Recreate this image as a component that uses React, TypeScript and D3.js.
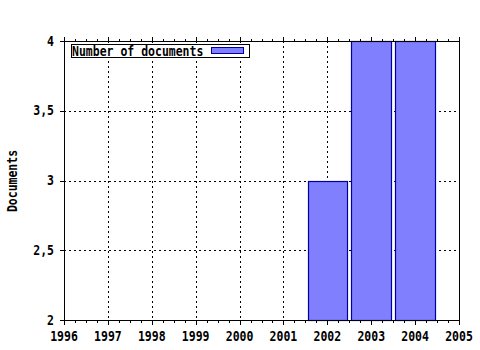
import React from "react";
import * as d3 from "d3";

const years = [2002, 2003, 2004];
const documents = [3, 4, 4];
const xTicks = [1996, 1997, 1998, 1999, 2000, 2001, 2002, 2003, 2004, 2005];
const yTicks = [2, 2.5, 3, 3.5, 4];
const legendLabel = "Number of documents";
const yLabel = "Documents";

const W = 480, H = 350;
const L = 64, R = 459, T = 41, B = 320;
const FONT = "'DejaVu Sans Mono', monospace";

function Txt({ x, y, anchor, rotate, children }: { x: number; y: number; anchor?: string; rotate?: number; children: React.ReactNode }) {
  return (
    <text transform={`translate(${x},${y})${rotate ? ` rotate(${rotate})` : ""} scale(1,1.15)`}
      textAnchor={anchor || "start"} fontFamily={FONT} fontWeight="bold" fontSize={11.5} fill="#000">
      {children}
    </text>
  );
}

export default function App() {
  const x = d3.scaleLinear().domain([1996, 2005]).range([L, R]);
  const y = d3.scaleLinear().domain([2, 4]).range([B, T]);
  const minor: number[] = [];
  for (let v = 1996; v < 2005; v++) for (let k = 1; k < 4; k++) minor.push(v + k / 4);
  const fmt = (v: number) => String(v).replace(".", ",");
  const barW = 0.9;
  const px = (v: number) => Math.round(x(v)) + 0.5;
  const py = (v: number) => Math.round(y(v)) + 0.5;
  return (
    <svg width={W} height={H} style={{ position: "absolute", left: 0, top: 0, background: "#fff" }}>
      <rect x={0} y={0} width={W} height={H} fill="#fff" />
      {/* grid */}
      {xTicks.slice(1, -1).map((v) => (
        <line key={"gx" + v} x1={px(v)} x2={px(v)} y1={T} y2={B}
          stroke="#000" strokeDasharray="2,3" strokeWidth={1} />
      ))}
      {yTicks.slice(1, -1).map((v) => (
        <line key={"gy" + v} x1={L} x2={R} y1={py(v)} y2={py(v)}
          stroke="#000" strokeDasharray="2,3" strokeWidth={1} />
      ))}
      {/* bars */}
      {years.map((yr, i) => (
        <rect key={yr} x={px(yr - barW / 2)} y={py(documents[i])}
          width={Math.round(x(yr + barW / 2)) - Math.round(x(yr - barW / 2))}
          height={Math.round(y(2)) - Math.round(y(documents[i]))}
          fill="#8080ff" stroke="#0000a0" strokeWidth={1.2} />
      ))}
      {/* border */}
      <rect x={L + 0.5} y={T + 0.5} width={R - L} height={B - T} fill="none" stroke="#000" strokeWidth={1} />
      {/* x ticks */}
      {xTicks.map((v) => (
        <g key={"xt" + v}>
          <line x1={px(v)} x2={px(v)} y1={B} y2={B + 5} stroke="#000" />
          <line x1={px(v)} x2={px(v)} y1={T + 1} y2={T - 4} stroke="#000" />
          <Txt x={x(v)} y={341} anchor="middle">{v}</Txt>
        </g>
      ))}
      {minor.map((v) => (
        <g key={"mt" + v}>
          <line x1={px(v)} x2={px(v)} y1={B} y2={B + 3} stroke="#000" />
          <line x1={px(v)} x2={px(v)} y1={T + 1} y2={T - 2} stroke="#000" />
        </g>
      ))}
      {/* y ticks */}
      {yTicks.map((v) => (
        <g key={"yt" + v}>
          <line x1={L - 4} x2={L + 1} y1={py(v)} y2={py(v)} stroke="#000" />
          <Txt x={54} y={y(v) + 4.5} anchor="end">{fmt(v)}</Txt>
        </g>
      ))}
      {/* y label */}
      <Txt x={17} y={181} anchor="middle" rotate={-90}>{yLabel}</Txt>
      {/* legend */}
      <rect x={71.5} y={44.5} width={178} height={13} fill="#fff" stroke="#000" />
      <Txt x={72} y={55.5}>{legendLabel}</Txt>
      <rect x={211.5} y={47.5} width={32} height={6} fill="#8080ff" stroke="#0000a0" />
    </svg>
  );
}
